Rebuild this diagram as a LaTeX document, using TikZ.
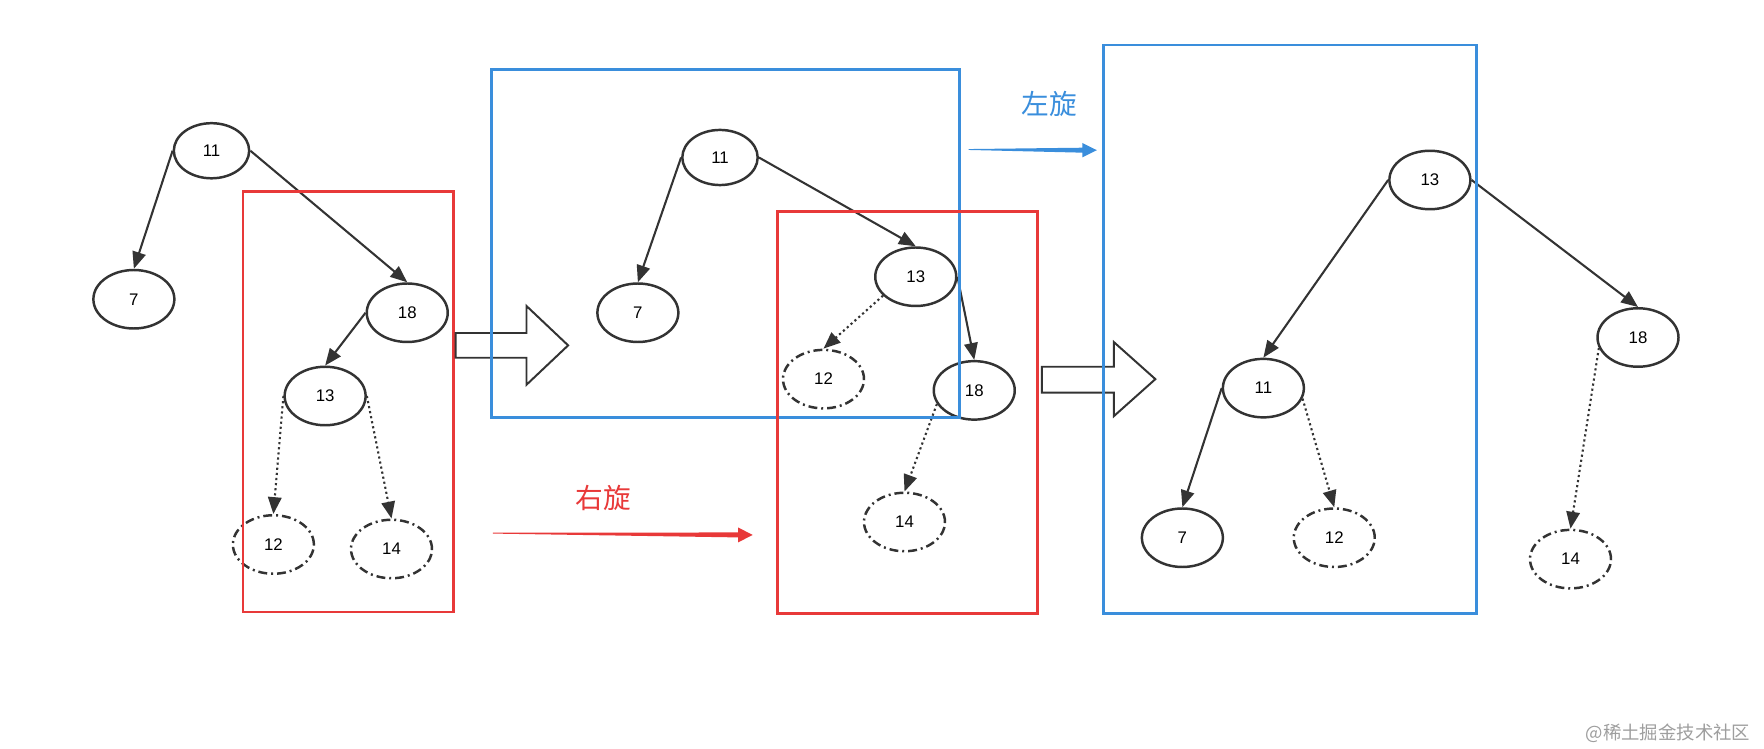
\documentclass[tikz,border=0pt]{standalone}
\usepackage{fontspec}
\setmainfont{Liberation Sans}
\newfontfamily\cjk{Noto Sans CJK SC}
\usetikzlibrary{arrows.meta,shapes.geometric,calc}
\definecolor{rotred}{RGB}{232,57,57}
\definecolor{rotblue}{RGB}{58,142,220}
\definecolor{ink}{RGB}{51,51,51}

\begin{document}
\begin{tikzpicture}[x=0.02cm, y=-0.02cm, >={Triangle[length=3mm,width=2.4mm]},
  nd/.style={ellipse,draw=ink,line width=1.25pt,minimum width=1.44cm,minimum height=1.04cm,
    inner sep=0pt,font=\fontsize{8.5}{10}\selectfont},
  top/.style={nd,minimum width=1.34cm,minimum height=0.98cm},
  gh/.style={nd,dash pattern=on 4.5pt off 2pt on 1pt off 2pt},
  link/.style={->,draw=ink,line width=1.05pt},
  dlink/.style={link,dash pattern=on 1.1pt off 1.5pt},
  redbox/.style={draw=rotred,line width=1.5pt},
  bluebox/.style={draw=rotblue,line width=1.5pt},
  hollow/.style={draw=ink,fill=white,line width=1pt,line join=miter}]
  \useasboundingbox (0,0) rectangle (1568,665);

  % before: right rotation on 18
  \node[top] (a11) at (188,134) {11};
  \node[nd] (a7) at (119,266) {7};
  \node[nd] (a18) at (362,278) {18};
  \node[nd] (a13) at (289,352) {13};
  \node[gh] (a12) at (243,484) {12};
  \node[gh] (a14) at (348,488) {14};
  \draw[link] (a11.west) -- (a7.north);
  \draw[link] (a11.east) -- (a18.north);
  \draw[link] (a18.west) -- (a13.north);
  \draw[dlink] (a13.west) -- (a12.north);
  \draw[dlink] (a13.east) -- (a14.north);
  \draw[redbox] (216,170) rectangle (403,544);

  \draw[hollow] (405,296) -- (468,296) -- (468,272) -- (505,307) -- (468,342) -- (468,318) -- (405,318) -- cycle;

  % middle: after right rotation
  \node[top] (b11) at (640,140) {11};
  \node[nd] (b7) at (567,278) {7};
  \node[nd] (b13) at (814,246) {13};
  \node[gh] (b12) at (732,337) {12};
  \node[nd] (b18) at (866,347) {18};
  \node[gh] (b14) at (804,464) {14};
  \draw[link] (b11.west) -- (b7.north);
  \draw[link] (b11.east) -- (b13.north);
  \draw[dlink] (b13.-150) -- (b12.north);
  \draw[link] (b13.east) -- (b18.north);
  \draw[dlink] (b18.-160) -- (b14.north);
  \draw[bluebox] (437,62) rectangle (853,371);
  \draw[redbox] (691,188) rectangle (922,545);

  \node[text=rotred, font=\cjk\fontsize{14}{16}\selectfont] (rlabel) at (536,443) {右旋};
  \coordinate (rs) at (438,473.5);
  \coordinate (re) at (669,475.5);
  \fill[rotred] (rs) -- ($(re)+(-13,-2.2)$) -- ($(re)+(-13,-6.7)$) -- (re)
    -- ($(re)+(-13,6.7)$) -- ($(re)+(-13,2.2)$) -- ($(rs)+(0,0.8)$) -- cycle;

  \node[text=rotblue, font=\cjk\fontsize{14}{16}\selectfont] (llabel) at (933,92) {左旋};
  \coordinate (ls) at (861,132.5);
  \coordinate (le) at (975,133.5);
  \fill[rotblue] (ls) -- ($(le)+(-13,-2.2)$) -- ($(le)+(-13,-6.4)$) -- (le)
    -- ($(le)+(-13,6.4)$) -- ($(le)+(-13,2.2)$) -- ($(ls)+(0,0.8)$) -- cycle;

  \draw[hollow] (926,326) -- (990,326) -- (990,304) -- (1027,337) -- (990,370) -- (990,349) -- (926,349) -- cycle;

  % after: left rotation on 11
  \node[nd] (c13) at (1271,160) {13};
  \node[nd] (c11) at (1123,345) {11};
  \node[nd] (c7) at (1051,478) {7};
  \node[gh] (c12) at (1186,478) {12};
  \node[nd] (c18) at (1456,300) {18};
  \node[gh] (c14) at (1396,497) {14};
  \draw[link] (c13.west) -- (c11.north);
  \draw[link] (c13.east) -- (c18.north);
  \draw[link] (c11.west) -- (c7.north);
  \draw[dlink] (c11.-15) -- (c12.north);
  \draw[dlink] (c18.-165) -- (c14.north);
  \draw[bluebox] (981,40) rectangle (1312,545);

  \node[anchor=east, text=black!38, font=\cjk\fontsize{9.3}{11}\selectfont] (mark) at (1562,652) {@稀土掘金技术社区};
\end{tikzpicture}
\end{document}
